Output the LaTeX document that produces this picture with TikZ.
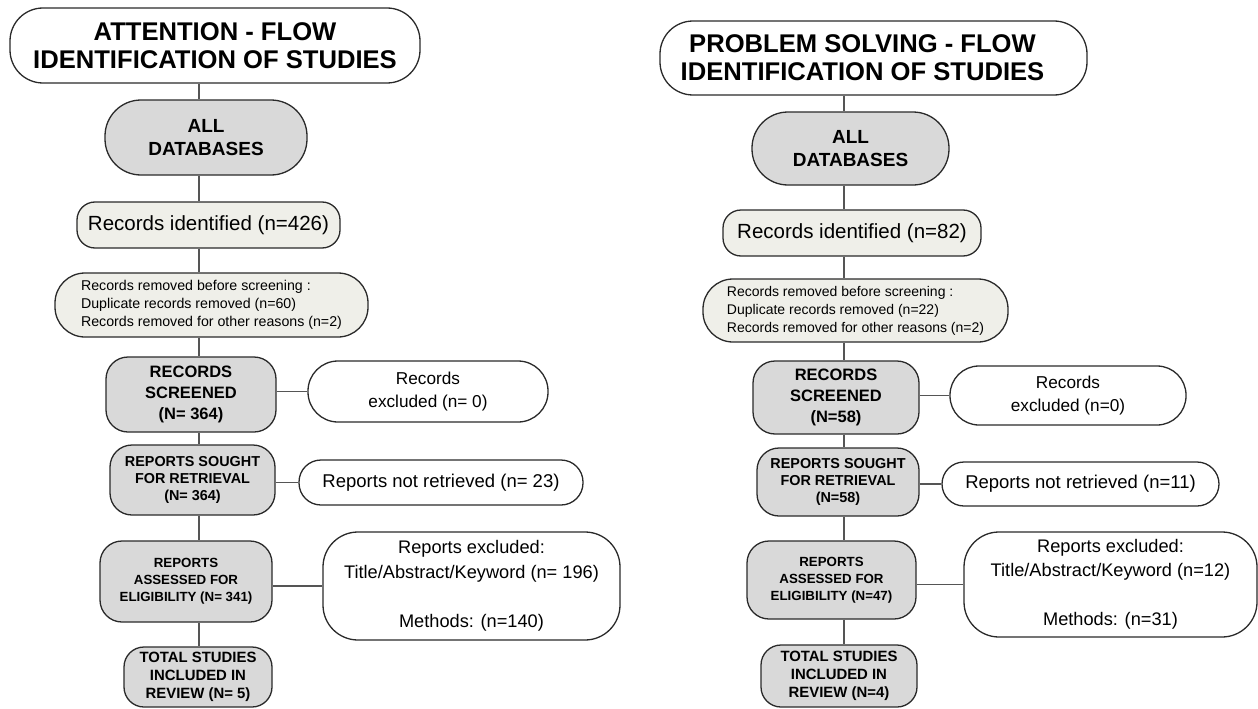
\documentclass[tikz,border=0pt]{standalone}
\usepackage{fontspec}
\setmainfont{Liberation Sans}
\definecolor{boxgray}{HTML}{D9D9D9}
\definecolor{boxlight}{HTML}{EFEFE9}
\definecolor{edge}{HTML}{2A2A2A}
\definecolor{conn}{HTML}{555555}
\newcommand{\fs}[2]{\fontsize{#1}{#2}\selectfont}
\begin{document}
\begin{tikzpicture}[x=1pt,y=-1pt,
  box/.style={draw=edge,line width=1.3pt,align=center,inner sep=0pt},
  titlebox/.style={box,fill=white,rounded corners=33pt,font=\fs{25.6}{28}\bfseries},
  darkbox/.style={box,fill=boxgray},
  lightbox/.style={box,fill=boxlight},
  whitebox/.style={box,fill=white},
  link/.style={draw=conn,line width=1.2pt}]
\useasboundingbox (0,0) rectangle (1258,709);

% ---------------- left panel ----------------
\coordinate (xA) at (199,0);
\node[titlebox,minimum width=410pt,minimum height=75pt] (titleA) at (215,45.5)
  {ATTENTION - FLOW\\IDENTIFICATION OF STUDIES};
\node[darkbox,rounded corners=36pt,minimum width=202pt,minimum height=75pt,font=\fs{19}{23}\bfseries] (dbA) at (206,137.5)
  {ALL\\DATABASES};
\node[lightbox,rounded corners=18pt,minimum width=263pt,minimum height=46pt,font=\fs{20.5}{24}] (idA) at (208.5,225)
  {Records identified (n=426)};
\node[lightbox,rounded corners=30pt,minimum width=313pt,minimum height=64pt,font=\fs{14.2}{18},align=left] (remA) at (211.5,305)
  {Records removed before screening :\\Duplicate records removed (n=60)\\Records removed for other reasons (n=2)};
\node[darkbox,rounded corners=22pt,minimum width=170pt,minimum height=75pt,font=\fs{16.5}{21}\bfseries] (scrA) at (191,394.5)
  {RECORDS\\SCREENED\\(N= 364)};
\node[whitebox,rounded corners=30pt,minimum width=240pt,minimum height=61pt,font=\fs{17.2}{23}] (excA) at (428,391.5)
  {Records\\excluded (n= 0)};
\node[darkbox,rounded corners=22pt,minimum width=165pt,minimum height=70pt,font=\fs{14.4}{17}\bfseries] (soughtA) at (192.5,480)
  {REPORTS SOUGHT\\FOR RETRIEVAL\\(N= 364)};
\node[whitebox,rounded corners=22pt,minimum width=284pt,minimum height=45pt,font=\fs{18.5}{22}] (nretA) at (441,482.5)
  {Reports not retrieved (n= 23)};
\node[darkbox,rounded corners=22pt,minimum width=172pt,minimum height=81pt,font=\fs{13.3}{17}\bfseries] (assA) at (186,581.5)
  {REPORTS\\ASSESSED FOR\\ELIGIBILITY (N= 341)};
\node[whitebox,rounded corners=35pt,minimum width=297pt,minimum height=108pt,font=\fs{18.2}{24.5}] (rexA) at (471.5,586)
  {Reports excluded:\\Title/Abstract/Keyword (n= 196)\\[24.5pt]Methods: (n=140)};
\node[darkbox,rounded corners=20pt,minimum width=148pt,minimum height=60pt,font=\fs{14.9}{18}\bfseries] (totA) at (198,677)
  {TOTAL STUDIES\\INCLUDED IN\\REVIEW (N= 5)};

\draw[link] (titleA.south -| xA) -- (dbA.north -| xA);
\draw[link] (dbA.south -| xA) -- (idA.north -| xA);
\draw[link] (idA.south -| xA) -- (remA.north -| xA);
\draw[link] (remA.south -| xA) -- (scrA.north -| xA);
\draw[link] (scrA.south -| xA) -- (soughtA.north -| xA);
\draw[link] (soughtA.south -| xA) -- (assA.north -| xA);
\draw[link] (assA.south -| xA) -- (totA.north -| xA);
\draw[link] (scrA.east |- excA.west) -- (excA.west);
\draw[link] (soughtA.east |- nretA.west) -- (nretA.west);
\draw[link] (assA.east |- rexA.west) -- (rexA.west);

% ---------------- right panel ----------------
\coordinate (xB) at (844,0);
\node[titlebox,minimum width=427pt,minimum height=74pt] (titleB) at (873.5,58)
  {PROBLEM SOLVING - FLOW\hspace*{22pt}\\IDENTIFICATION OF STUDIES\hspace*{22pt}};
\node[darkbox,rounded corners=36pt,minimum width=197pt,minimum height=73pt,font=\fs{19}{23}\bfseries] (dbB) at (850.5,148.5)
  {ALL\\DATABASES};
\node[lightbox,rounded corners=18pt,minimum width=258pt,minimum height=46pt,font=\fs{20.5}{24}] (idB) at (852,233)
  {Records identified (n=82)};
\node[lightbox,rounded corners=30pt,minimum width=305pt,minimum height=63pt,font=\fs{14}{18},align=left] (remB) at (855.5,310.5)
  {Records removed before screening :\\Duplicate records removed (n=22)\\Records removed for other reasons (n=2)};
\node[darkbox,rounded corners=22pt,minimum width=166pt,minimum height=73pt,font=\fs{16.5}{21}\bfseries] (scrB) at (836,397.5)
  {RECORDS\\SCREENED\\(N=58)};
\node[whitebox,rounded corners=29pt,minimum width=236pt,minimum height=59pt,font=\fs{17.2}{23}] (excB) at (1068,395.5)
  {Records\\excluded (n=0)};
\node[darkbox,rounded corners=22pt,minimum width=162pt,minimum height=68pt,font=\fs{14.4}{17}\bfseries] (soughtB) at (838,482)
  {REPORTS SOUGHT\\FOR RETRIEVAL\\(N=58)};
\node[whitebox,rounded corners=22pt,minimum width=277pt,minimum height=44pt,font=\fs{18.5}{22}] (nretB) at (1080.5,484)
  {Reports not retrieved (n=11)};
\node[darkbox,rounded corners=22pt,minimum width=169pt,minimum height=78pt,font=\fs{13.3}{17}\bfseries] (assB) at (831.5,580)
  {REPORTS\\ASSESSED FOR\\ELIGIBILITY (N=47)};
\node[whitebox,rounded corners=35pt,minimum width=293pt,minimum height=105pt,font=\fs{18.2}{24.5}] (rexB) at (1110.5,584.5)
  {Reports excluded:\\Title/Abstract/Keyword (n=12)\\[24.5pt]Methods: (n=31)};
\node[darkbox,rounded corners=20pt,minimum width=156pt,minimum height=62pt,font=\fs{14.9}{18}\bfseries] (totB) at (839,676)
  {TOTAL STUDIES\\INCLUDED IN\\REVIEW (N=4)};

\draw[link] (titleB.south -| xB) -- (dbB.north -| xB);
\draw[link] (dbB.south -| xB) -- (idB.north -| xB);
\draw[link] (idB.south -| xB) -- (remB.north -| xB);
\draw[link] (remB.south -| xB) -- (scrB.north -| xB);
\draw[link] (scrB.south -| xB) -- (soughtB.north -| xB);
\draw[link] (soughtB.south -| xB) -- (assB.north -| xB);
\draw[link] (assB.south -| xB) -- (totB.north -| xB);
\draw[link] (scrB.east |- excB.west) -- (excB.west);
\draw[link] (soughtB.east |- nretB.west) -- (nretB.west);
\draw[link] (assB.east |- rexB.west) -- (rexB.west);
\end{tikzpicture}
\end{document}
